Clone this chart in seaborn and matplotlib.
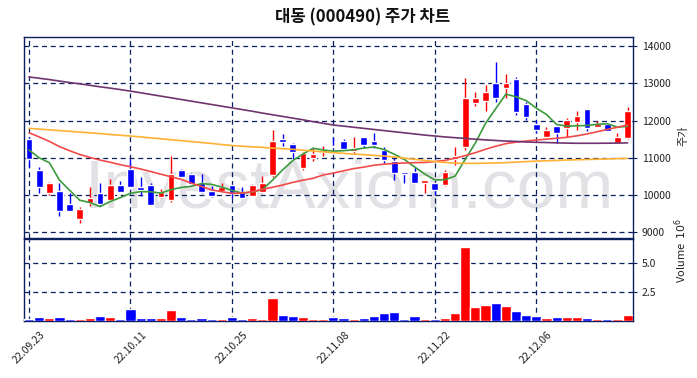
import numpy as np
import pandas as pd
import matplotlib
matplotlib.use("Agg")
import matplotlib.pyplot as plt
import seaborn as sns
from matplotlib.ticker import FuncFormatter

# --- data ---
tick_labels = ["22.09.23", "22.10.11", "22.10.25", "22.11.08", "22.11.22", "22.12.06"]

opens = [11496, 10673, 10046, 10100, 9760, 9367, 9796, 10046, 9867, 10270,
         10690, 10207, 10270, 9957, 9867, 10673, 10565, 10333, 10100, 10118,
         10270, 10091, 9984, 10091, 10538, 11513, 11361, 10735, 11003, 11147,
         11316, 11451, 11191, 11549, 11451, 11209, 10914, 10610, 10610, 10333,
         10315, 10270, 10959, 11299, 12479, 12533, 13000, 12882, 13105, 12444,
         11898, 11549, 11853, 11791, 11970, 12309, 11835, 11898, 11388, 11522]
highs = [11570, 10744, 10342, 10315, 10046, 9689, 10207, 10333, 10440, 10386,
         10959, 10494, 10315, 10154, 11048, 10700, 10600, 10565, 10252, 10333,
         10270, 10207, 10290, 10520, 11746, 11639, 11388, 11164, 11254, 11316,
         11567, 11495, 11549, 11549, 11656, 11280, 10986, 10610, 10762, 10404,
         10315, 10672, 11299, 13132, 12775, 12954, 13580, 13249, 13177, 12506,
         12015, 11835, 11853, 12060, 12256, 12309, 11996, 11898, 11656, 12372]
lows = [10760, 10046, 10001, 9438, 9581, 9259, 9715, 9715, 9849, 10091,
        10207, 9975, 9733, 9912, 9823, 10494, 10270, 10046, 9957, 10100,
        9912, 9912, 9984, 10046, 10494, 11317, 10960, 10672, 10923, 11048,
        11254, 11209, 11120, 11254, 11254, 10851, 10404, 10333, 10333, 10046,
        10001, 10252, 10807, 11209, 12390, 12256, 12506, 12596, 12148, 12015,
        11656, 11522, 11388, 11549, 11746, 11728, 11817, 11728, 11388, 11495]
closes = [10968, 10207, 10315, 9581, 9581, 9617, 9912, 9760, 10270, 10091,
          10207, 10136, 9733, 10091, 10565, 10494, 10297, 10091, 9984, 10207,
          10046, 9912, 10270, 10315, 11451, 11433, 11164, 11138, 11102, 11209,
          11280, 11227, 11254, 11343, 11343, 10941, 10601, 10556, 10333, 10404,
          10136, 10628, 11048, 12596, 12596, 12757, 12596, 13000, 12238, 12086,
          11746, 11746, 11656, 12015, 12130, 11791, 11907, 11728, 11549, 12256]
volumes_m = [0.17, 0.34, 0.26, 0.34, 0.17, 0.17, 0.26, 0.43, 0.34, 0.17,
             1.03, 0.26, 0.26, 0.26, 0.95, 0.34, 0.17, 0.26, 0.17, 0.17,
             0.34, 0.17, 0.26, 0.17, 1.98, 0.52, 0.43, 0.34, 0.17, 0.17,
             0.34, 0.26, 0.17, 0.26, 0.43, 0.69, 0.78, 0.17, 0.43, 0.17,
             0.17, 0.26, 0.69, 6.41, 1.21, 1.38, 1.55, 1.29, 0.86, 0.52,
             0.43, 0.26, 0.34, 0.34, 0.34, 0.26, 0.17, 0.17, 0.17, 0.52]

# moving averages that need history before the window
ma5_head = [11209, 11000, 10869, 10400]
ma20 = [11674, 11560, 11440, 11300, 11190, 11090, 11010, 10940, 10880, 10815,
        10760, 10700, 10630, 10560, 10490, 10420, 10320, 10230, 10140, 10090,
        10045, 10055, 10090, 10150, 10210, 10270, 10340, 10400, 10450, 10540,
        10590, 10650, 10710, 10750, 10800, 10830, 10850, 10860, 10870, 10875,
        10900, 10930, 10990, 11060, 11138, 11230, 11310, 11380, 11420, 11450,
        11478, 11500, 11525, 11549, 11590, 11639, 11700, 11764, 11820, 11880]
ma60 = [11790, 11770, 11750, 11730, 11710, 11690, 11670, 11650, 11625, 11605,
        11585, 11560, 11535, 11510, 11485, 11460, 11435, 11410, 11385, 11355,
        11330, 11310, 11295, 11280, 11260, 11245, 11227, 11205, 11180, 11160,
        11138, 11120, 11100, 11085, 11065, 11048, 11020, 10990, 10960, 10930,
        10900, 10875, 10855, 10850, 10850, 10855, 10862, 10870, 10885, 10898,
        10910, 10920, 10930, 10940, 10948, 10955, 10962, 10970, 10978, 10985]
ma120 = [13170, 13135, 13100, 13060, 13020, 12985, 12945, 12905, 12870, 12830,
         12790, 12745, 12700, 12655, 12610, 12565, 12520, 12475, 12430, 12385,
         12340, 12295, 12250, 12200, 12155, 12110, 12065, 12020, 11970, 11925,
         11880, 11850, 11820, 11790, 11760, 11730, 11700, 11670, 11640, 11610,
         11585, 11560, 11540, 11520, 11500, 11480, 11465, 11450, 11440, 11425,
         11415, 11410, 11400, 11395, 11390, 11390, 11390, 11392, 11395, 11400]

df = pd.DataFrame({"open": opens, "high": highs, "low": lows,
                   "close": closes, "volume": np.array(volumes_m) * 1e6})
df["idx"] = np.arange(len(df))
ma5 = df["close"].rolling(5).mean()
ma5.iloc[:4] = ma5_head
df["ma5"] = ma5
df["ma20"] = ma20
df["ma60"] = ma60
df["ma120"] = ma120

up = df["close"] >= df["open"]
bar_colors = np.where(up, "#ff0000", "#0000ff")

# --- style ---
sns.set_theme(style="white")
plt.rcParams["font.family"] = ["Noto Sans CJK KR", "DejaVu Sans"]
navy = "#0b1f5e"

fig = plt.figure(figsize=(6.97, 3.78), dpi=100)
ax = fig.add_axes([0.0344, 0.3696, 0.8733, 0.5333])
axv = fig.add_axes([0.0344, 0.1508, 0.8733, 0.2161], sharex=ax)

# watermark
ax.text(0.535, 0.24, "InvestAxiom.com", transform=ax.transAxes, ha="center", va="center",
        fontsize=50, color="#e2e2e6", family="Liberation Sans", zorder=0)

# candles
ax.vlines(df["idx"], df["low"], df["high"], colors=bar_colors, linewidth=1, zorder=2)
body_bottom = np.minimum(df["open"], df["close"])
body_h = np.abs(df["close"] - df["open"]).clip(lower=15)
ax.bar(df["idx"], body_h, bottom=body_bottom, width=0.66, color=bar_colors, zorder=3)

# moving averages
for col, c in [("ma5", "#3b9a3b"), ("ma20", "#f24a4a"), ("ma60", "#ffb133"), ("ma120", "#6f3470")]:
    sns.lineplot(data=df, x="idx", y=col, ax=ax, color=c, linewidth=1.2, zorder=4)

# volume
axv.bar(df["idx"], df["volume"], width=1.0, color=bar_colors, zorder=3)

# axes
ax.set_xlim(-0.5, 59.5)
ax.set_ylim(8840, 14250)
axv.set_ylim(0, 7.05e6)
ticks = list(range(0, 60, 10))
for a in (ax, axv):
    a.set_xticks(ticks)
    a.grid(True, color=navy, linestyle=(0, (4, 3)), linewidth=0.9)
    a.yaxis.tick_right()
    a.yaxis.set_label_position("right")
    for s in a.spines.values():
        s.set_color(navy)
        s.set_linewidth(1.0)
    a.tick_params(axis="both", colors=navy, labelcolor="#222222", labelsize=7.5,
                  length=3, width=0.8, direction="out")
    a.set_xlabel("")
ax.tick_params(axis="x", labelbottom=False, length=0)
ax.set_yticks([9000, 10000, 11000, 12000, 13000, 14000])
ax.set_ylabel("주가", fontsize=8, color="#222222")
ax.yaxis.set_label_coords(1.076, 0.507)

axv.set_yticks([2.5e6, 5.0e6])
axv.yaxis.set_major_formatter(FuncFormatter(lambda v, p: f"{v / 1e6:.1f}"))
axv.set_ylabel("Volume  $10^{6}$", fontsize=8, color="#222222")
axv.yaxis.set_label_coords(1.065, 0.86)
axv.set_xticklabels(tick_labels, rotation=45)

fig.text(0.52, 0.955, "대동 (000490) 주가 차트", ha="center", va="center",
         fontsize=12, fontweight="bold", color="#111111")

plt.savefig("out.png", dpi=100)
